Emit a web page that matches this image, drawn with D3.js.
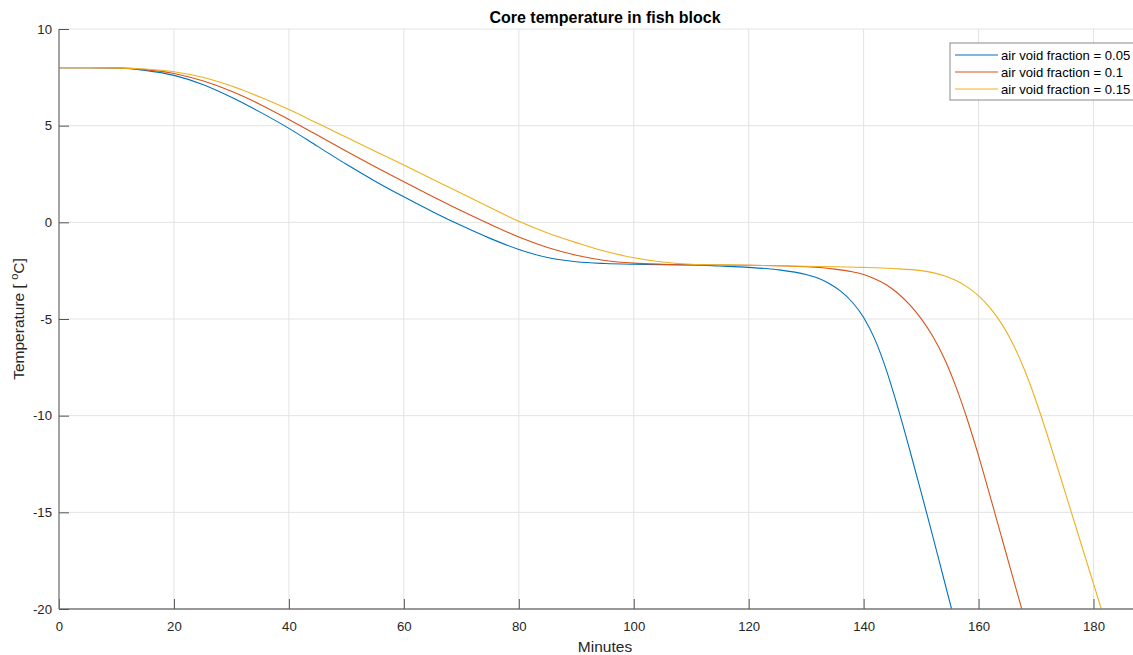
<!DOCTYPE html>
<html>
<head>
<meta charset="utf-8">
<script src="https://cdn.jsdelivr.net/npm/d3@7"></script>
<style>
  body { margin: 0; background: #fff; }
  svg { display: block; font-family: "Liberation Sans", Arial, Helvetica, sans-serif; }
</style>
</head>
<body>
<svg id="chart" width="1133" height="655"></svg>
<script>
// Core temperature curves (minutes, °C) for three air void fractions
const seriesNames = ["air void fraction = 0.05", "air void fraction = 0.1", "air void fraction = 0.15"];
const seriesColors = ["#0072BD", "#D95319", "#EDB120"];

const timeA = [0, 5, 10, 15, 20, 25, 30, 35, 40, 45, 50, 55, 60, 65, 70, 75, 80, 85, 90, 95, 100, 110, 115, 120, 125, 130, 132, 134, 136, 138, 140, 142, 144, 146, 148, 150, 152, 154, 156];
const tempA = [8, 8, 7.98, 7.86, 7.6, 7.13, 6.47, 5.7, 4.86, 3.93, 3.0, 2.13, 1.32, 0.55, -0.17, -0.83, -1.4, -1.82, -2.04, -2.13, -2.17, -2.2, -2.26, -2.33, -2.45, -2.7, -2.88, -3.16, -3.56, -4.12, -4.92, -6.08, -7.68, -9.62, -11.75, -13.95, -16.2, -18.5, -20.8];

const timeB = [0, 5, 10, 15, 20, 25, 30, 35, 40, 45, 50, 55, 60, 65, 70, 75, 80, 85, 90, 95, 100, 105, 110, 120, 130, 135, 138, 140, 142, 144, 146, 148, 150, 152, 154, 156, 158, 160, 162, 164, 166, 168];
const tempB = [8, 8, 7.99, 7.9, 7.7, 7.32, 6.78, 6.1, 5.32, 4.5, 3.68, 2.88, 2.1, 1.34, 0.6, -0.1, -0.76, -1.3, -1.7, -1.97, -2.11, -2.17, -2.2, -2.22, -2.3, -2.42, -2.56, -2.7, -2.93, -3.24, -3.68, -4.26, -4.98, -5.88, -7.02, -8.46, -10.16, -12.08, -14.16, -16.28, -18.4, -20.52];

const timeC = [0, 5, 10, 15, 20, 25, 30, 35, 40, 45, 50, 55, 60, 65, 70, 75, 80, 85, 90, 95, 100, 105, 110, 115, 120, 130, 140, 145, 150, 152, 154, 156, 158, 160, 162, 164, 166, 168, 170, 172, 174, 176, 178, 180, 182];
const tempC = [8, 8, 7.99, 7.93, 7.79, 7.5, 7.05, 6.48, 5.83, 5.12, 4.4, 3.68, 2.96, 2.23, 1.5, 0.77, 0.05, -0.55, -1.05, -1.5, -1.83, -2.05, -2.17, -2.2, -2.22, -2.27, -2.33, -2.39, -2.5, -2.6, -2.76, -3.0, -3.34, -3.8, -4.42, -5.24, -6.3, -7.64, -9.24, -11.04, -12.94, -14.86, -16.78, -18.7, -20.62];

const xTicks = [0, 20, 40, 60, 80, 100, 120, 140, 160, 180];
const yTicks = [-20, -15, -10, -5, 0, 5, 10];

const series = [
  { name: seriesNames[0], color: seriesColors[0], pts: timeA.map((t, i) => [t, tempA[i]]) },
  { name: seriesNames[1], color: seriesColors[1], pts: timeB.map((t, i) => [t, tempB[i]]) },
  { name: seriesNames[2], color: seriesColors[2], pts: timeC.map((t, i) => [t, tempC[i]]) }
];

const svg = d3.select("#chart");
const plotL = 59, plotR = 1151, plotT = 29, plotB = 609;

const x = d3.scaleLinear().domain([0, 190]).range([plotL, plotR]);
const y = d3.scaleLinear().domain([-20, 10]).range([plotB, plotT]);

// grid
const grid = svg.append("g");
grid.selectAll("line.gx").data(xTicks).join("line")
  .attr("x1", d => x(d)).attr("x2", d => x(d))
  .attr("y1", plotT).attr("y2", plotB)
  .attr("stroke", "#e3e3e3").attr("stroke-width", 1);
grid.selectAll("line.gy").data(yTicks).join("line")
  .attr("x1", plotL).attr("x2", plotR)
  .attr("y1", d => y(d)).attr("y2", d => y(d))
  .attr("stroke", "#e3e3e3").attr("stroke-width", 1);

// clipped data lines
svg.append("clipPath").attr("id", "plotclip")
  .append("rect").attr("x", plotL).attr("y", plotT).attr("width", plotR - plotL).attr("height", plotB - plotT);

const line = d3.line().x(d => x(d[0])).y(d => y(d[1])).curve(d3.curveMonotoneX);
svg.append("g").attr("clip-path", "url(#plotclip)")
  .selectAll("path").data(series).join("path")
  .attr("d", d => line(d.pts))
  .attr("fill", "none")
  .attr("stroke", d => d.color)
  .attr("stroke-width", 1.1);

// axes with inward ticks
const axisColor = "#7a7a7a";
const xAxis = svg.append("g").attr("transform", `translate(0,${plotB})`)
  .call(d3.axisBottom(x).tickValues(xTicks).tickSize(-10).tickPadding(13).tickFormat(d3.format("d")));
const yAxis = svg.append("g").attr("transform", `translate(${plotL},0)`)
  .call(d3.axisLeft(y).tickValues(yTicks).tickSize(-10).tickPadding(7).tickFormat(d => d < 0 ? "-" + Math.abs(d) : d));

[xAxis, yAxis].forEach(g => {
  g.select(".domain").attr("stroke", axisColor).attr("stroke-width", 1.3);
  g.selectAll(".tick line").attr("stroke", "#555").attr("stroke-width", 1);
  g.selectAll(".tick text").attr("fill", "#262626").attr("font-size", 13.2)
    .attr("font-family", "'Liberation Sans', Arial, sans-serif");
});
xAxis.select(".domain").attr("d", `M${plotL},0H${plotR}`);
yAxis.select(".domain").attr("d", `M0,${plotT}V${plotB}`);

// title and axis labels
svg.append("text").attr("x", (plotL + plotR) / 2).attr("y", 22.5)
  .attr("text-anchor", "middle").attr("font-size", 16).attr("font-weight", "bold")
  .attr("fill", "#000").text("Core temperature in fish block");

svg.append("text").attr("x", (plotL + plotR) / 2).attr("y", 652)
  .attr("text-anchor", "middle").attr("font-size", 15.5).attr("fill", "#262626").text("Minutes");

const yl = svg.append("text")
  .attr("transform", `translate(24,${(plotT + plotB) / 2}) rotate(-90)`)
  .attr("text-anchor", "middle").attr("font-size", 15.5).attr("fill", "#262626");
yl.append("tspan").text("Temperature [ ");
yl.append("tspan").attr("font-size", 11).attr("dy", -6).text("o");
yl.append("tspan").attr("dy", 6).text("C]");

// legend
const lg = svg.append("g").attr("transform", "translate(950,43)");
lg.append("rect").attr("width", 198).attr("height", 57)
  .attr("fill", "#fff").attr("stroke", "#8a8a8a").attr("stroke-width", 1);
const items = lg.selectAll("g.item").data(series).join("g")
  .attr("transform", (d, i) => `translate(0,${12 + i * 17})`);
items.append("line").attr("x1", 5).attr("x2", 48).attr("y1", 0).attr("y2", 0)
  .attr("stroke", d => d.color).attr("stroke-width", 1.1);
items.append("text").attr("x", 51).attr("y", 4.5)
  .attr("font-size", 13.1).attr("fill", "#000").text(d => d.name);
</script>
</body>
</html>
